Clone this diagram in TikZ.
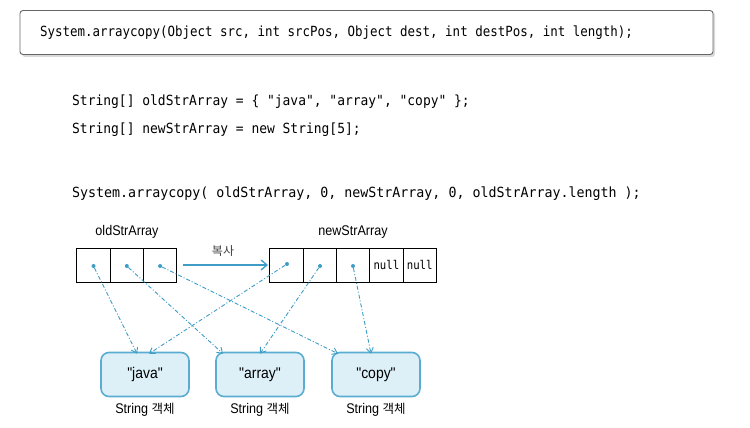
\documentclass[tikz,border=0pt]{standalone}
\usepackage{fontspec}
\setmainfont{Liberation Sans}
\newfontfamily\codefont[FakeStretch=0.89]{DejaVu Sans Mono}
\newfontfamily\codefontB[FakeStretch=0.925]{DejaVu Sans Mono}
\newfontfamily\codefontC[FakeStretch=0.95]{DejaVu Sans Mono}
\newfontfamily\lblfont[FakeStretch=0.9]{Liberation Sans}
\newfontfamily\krfont{Noto Sans CJK KR}
\usetikzlibrary{arrows.meta}
\definecolor{lnblue}{HTML}{3E9DC6}
\definecolor{boxfill}{HTML}{DDF0F8}
\definecolor{boxline}{HTML}{5AADD0}
\tikzset{
  codeline/.style={anchor=base west,inner sep=0pt},
  cell/.style={draw=black,line width=0.9pt,minimum width=33.3pt,minimum height=34pt,inner sep=0pt,font=\codefont\fontsize{12}{13}\selectfont},
  dotn/.style={circle,fill=lnblue,inner sep=0pt,minimum size=4pt},
  ptr/.style={draw=lnblue,line width=0.9pt,dash pattern=on 4pt off 2pt on 1pt off 2pt,-{Straight Barb[length=5pt,width=7pt]}},
  strobj/.style={draw=boxline,fill=boxfill,line width=1.6pt,rounded corners=8pt,minimum width=88pt,minimum height=44pt,inner sep=0pt,font=\lblfont\fontsize{15.5}{17}\selectfont},
  lbl/.style={inner sep=0pt,font=\lblfont\fontsize{14}{16}\selectfont},
}
\begin{document}
\begin{tikzpicture}[x=1pt,y=-1pt]
\useasboundingbox (0,0) rectangle (750,428);
\fill[white] (0,0) rectangle (750,428);
% signature box
\fill[gray!30,rounded corners=3pt] (22,12) rectangle (715,57);
\node[draw=gray!80!black,fill=white,line width=0.9pt,rounded corners=3pt,minimum width=693pt,minimum height=44pt,inner sep=0pt] (sig) at (366.5,32.5) {};
\node[codeline,font=\codefont\fontsize{14}{16}\selectfont] (sigtext) at (40,37) {System.arraycopy(Object src, int srcPos, Object dest, int destPos, int length);};
% code lines
\node[codeline,font=\codefontB\fontsize{14}{16}\selectfont] (c1) at (72,106) {String[] oldStrArray = \{ "java", "array", "copy" \};};
\node[codeline,font=\codefontB\fontsize{14}{16}\selectfont] (c2) at (72,133) {String[] newStrArray = new String[5];};
\node[codeline,font=\codefontC\fontsize{14}{16}\selectfont] (c3) at (72,197) {System.arraycopy( oldStrArray, 0, newStrArray, 0, oldStrArray.length );};
% old array
\node[cell] (o0) at (93.5,265) {};
\node[cell] (o1) at (126.8,265) {};
\node[cell] (o2) at (160.1,265) {};
\node[lbl] (olbl) at (127,232) {oldStrArray};
% new array
\node[cell] (n0) at (286.5,265) {};
\node[cell] (n1) at (319.8,265) {};
\node[cell] (n2) at (353.1,265) {};
\node[cell] (n3) at (386.4,265) {null};
\node[cell] (n4) at (419.7,265) {null};
\node[lbl] (nlbl) at (353,232) {newStrArray};
% dots
\node[dotn] (od0) at (93.5,266) {};
\node[dotn] (od1) at (126.8,266) {};
\node[dotn] (od2) at (160.1,266) {};
\node[dotn] (nd0) at (287,264) {};
\node[dotn] (nd1) at (320,266) {};
\node[dotn] (nd2) at (353,266) {};
% copy arrow
\coordinate (cpA) at (183,265);
\coordinate (cpB) at (268,265);
\draw[draw=lnblue,line width=1.3pt,-{Straight Barb[length=6pt,width=10pt]}] (cpA) -- (cpB);
\node[inner sep=0pt,font=\krfont\fontsize{12}{14}\selectfont,text=black!75] (cplbl) at (223,251) {복사};
% string objects
\node[strobj] (java) at (145,374.5) {"java"};
\node[strobj] (array) at (260,374.5) {"array"};
\node[strobj] (copy) at (376,374.5) {"copy"};
\node[lbl] (jl) at (145,410) {String {\krfont\fontsize{12.5}{15}\selectfont 객체}};
\node[lbl] (al) at (260,410) {String {\krfont\fontsize{12.5}{15}\selectfont 객체}};
\node[lbl] (cl) at (376,410) {String {\krfont\fontsize{12.5}{15}\selectfont 객체}};
% pointers
\draw[ptr] (od0) -- ([xshift=-8pt,yshift=-2pt]java.north);
\draw[ptr] (nd0) -- ([xshift=4pt,yshift=-2pt]java.north);
\draw[ptr] (od1) -- ([xshift=-37pt,yshift=-2pt]array.north);
\draw[ptr] (nd1) -- ([yshift=-2pt]array.north);
\draw[ptr] (od2) -- ([xshift=-38pt,yshift=-2pt]copy.north);
\draw[ptr] (nd2) -- ([xshift=-5pt,yshift=-2pt]copy.north);
\end{tikzpicture}
\end{document}
